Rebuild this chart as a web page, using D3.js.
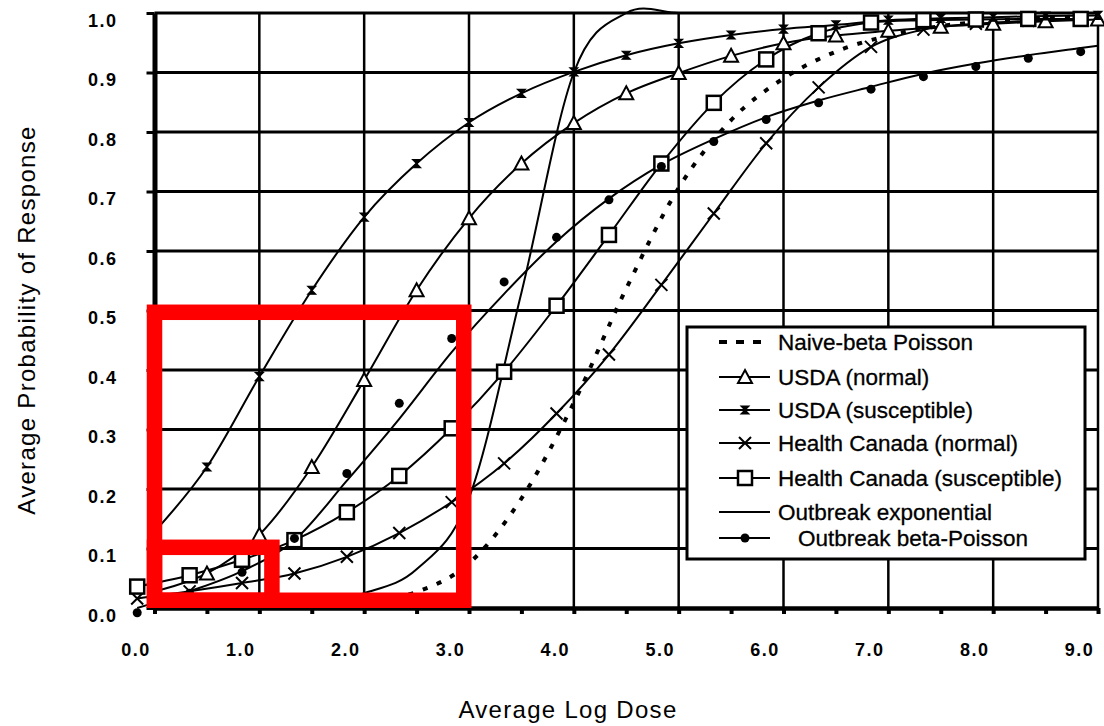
<!DOCTYPE html>
<html>
<head>
<meta charset="utf-8">
<script src="https://cdn.jsdelivr.net/npm/d3@7/dist/d3.min.js"></script>
<style>
body { margin: 0; background: #fff; }
text { font-family: "Liberation Sans", Arial, sans-serif; fill: #000; }
</style>
</head>
<body>
<svg id="chart" width="1104" height="726"></svg>
<script>

// dose positions (log dose)
var gridDose = [0.0, 0.5, 1.0, 1.5, 2.0, 2.5, 3.0, 3.5, 4.0, 4.5, 5.0, 5.5, 6.0, 6.5, 7.0, 7.5, 8.0, 8.5, 9.0];
var shiftedDose = [-0.165, 0.335, 0.835, 1.335, 1.835, 2.335, 2.835, 3.335, 3.835, 4.335, 4.835, 5.335, 5.835, 6.335, 6.835, 7.335, 7.835, 8.335, 8.835];
var bpLineDose = [-0.165, 0.335, 0.835, 1.335, 1.835, 2.335, 2.835, 3.335, 3.835, 4.335, 4.835, 5.335, 5.835, 6.335, 6.835, 7.335, 7.835, 8.335, 8.835, 9.0];

// probability of response per model
var naiveBetaPoisson = [0.0, 0.001, 0.002, 0.004, 0.01, 0.027, 0.075, 0.184, 0.345, 0.537, 0.706, 0.82, 0.89, 0.935, 0.962, 0.978, 0.987, 0.992, 0.995];
var usdaNormal = [0.028, 0.058, 0.123, 0.237, 0.383, 0.534, 0.655, 0.747, 0.815, 0.865, 0.899, 0.928, 0.949, 0.962, 0.97, 0.977, 0.982, 0.986, 0.989];
var usdaSusceptible = [0.128, 0.237, 0.389, 0.534, 0.657, 0.747, 0.816, 0.865, 0.901, 0.929, 0.949, 0.963, 0.973, 0.98, 0.988, 0.991, 0.993, 0.995, 0.996];
var hcNormal = [0.016, 0.028, 0.042, 0.058, 0.086, 0.126, 0.178, 0.243, 0.327, 0.426, 0.543, 0.663, 0.781, 0.875, 0.943, 0.972, 0.982, 0.987, 0.99];
var hcSusceptible = [0.036, 0.055, 0.081, 0.114, 0.161, 0.222, 0.302, 0.397, 0.508, 0.627, 0.747, 0.849, 0.922, 0.966, 0.984, 0.988, 0.989, 0.99, 0.99];
var outbreakExponential = [0.0, 0.001, 0.003, 0.008, 0.025, 0.065, 0.185, 0.53, 0.9, 1.0, 1.0, 1.0, 1.0, 1.0, 1.0, 1.0, 1.0, 1.0, 1.0];
var outbreakBPLine = [0.0, 0.028, 0.062, 0.114, 0.214, 0.318, 0.43, 0.528, 0.616, 0.688, 0.745, 0.788, 0.825, 0.853, 0.876, 0.898, 0.915, 0.929, 0.941, 0.945];
var outbreakBPPoints = [-0.008, 0.025, 0.06, 0.117, 0.226, 0.344, 0.453, 0.548, 0.623, 0.686, 0.742, 0.784, 0.821, 0.849, 0.872, 0.893, 0.91, 0.924, 0.935];

// axis ticks and labels
var xTicks = [0, 0.5, 1, 1.5, 2, 2.5, 3, 3.5, 4, 4.5, 5, 5.5, 6, 6.5, 7, 7.5, 8, 8.5, 9];
var xGrid = [1, 2, 3, 4, 5, 6, 7, 8, 9];
var xTickLabels = ["0.0", "1.0", "2.0", "3.0", "4.0", "5.0", "6.0", "7.0", "8.0", "9.0"];
var yTicks = [0, 0.1, 0.2, 0.3, 0.4, 0.5, 0.6, 0.7, 0.8, 0.9, 1.0];
var yTickLabels = ["0.0", "0.1", "0.2", "0.3", "0.4", "0.5", "0.6", "0.7", "0.8", "0.9", "1.0"];

var legendNames = ["Naive-beta Poisson", "USDA (normal)", "USDA (susceptible)", "Health Canada (normal)",
                   "Health Canada (susceptible)", "Outbreak exponential", "Outbreak beta-Poisson"];

// red highlight boxes (dose range, probability range)
var highlightOuter = {x0: 0, x1: 2.95, y0: 0.013, y1: 0.497};
var highlightInner = {x0: 0, x1: 1.12, y0: 0.013, y1: 0.102};


var svg = d3.select("#chart");

var x = d3.scaleLinear().domain([0, 9]).range([154.5, 1098]);
var y = d3.scaleLinear().domain([0, 1]).range([608, 13]);

// grid
svg.append("g").selectAll("line").data(yTicks.slice(1)).enter().append("line")
    .attr("x1", x(0)).attr("x2", x(9))
    .attr("y1", function(d) { return y(d); })
    .attr("y2", function(d) { return y(d); })
    .attr("stroke", "#000").attr("stroke-width", 3);

svg.append("g").selectAll("line").data(xGrid).enter().append("line")
    .attr("x1", function(d) { return x(d); })
    .attr("x2", function(d) { return x(d); })
    .attr("y1", y(0)).attr("y2", y(1))
    .attr("stroke", "#000").attr("stroke-width", 2.5);

// axes
var xAxis = svg.append("g")
    .attr("transform", "translate(0," + y(0) + ")")
    .call(d3.axisBottom(x).tickValues(xTicks).tickSize(6).tickSizeOuter(0)
        .tickFormat(function(d, i) { return i % 2 === 0 ? xTickLabels[i / 2] : ""; }));
xAxis.select(".domain").attr("stroke-width", 4.5);
xAxis.selectAll(".tick line").attr("stroke-width", 4);
xAxis.selectAll(".tick text")
    .attr("y", 48).attr("dy", null).attr("dx", -19)
    .style("font-size", "18px").style("font-weight", "bold").style("letter-spacing", "1.5px");

var yAxis = svg.append("g")
    .attr("transform", "translate(" + x(0) + ",0)")
    .call(d3.axisLeft(y).tickValues(yTicks).tickSize(8).tickSizeOuter(0)
        .tickFormat(function(d, i) { return yTickLabels[i]; }));
yAxis.select(".domain").attr("stroke-width", 5);
yAxis.selectAll(".tick line").attr("stroke-width", 3);
yAxis.selectAll(".tick text")
    .attr("x", -37).attr("y", 13).attr("dy", null)
    .style("font-size", "18px").style("font-weight", "bold").style("letter-spacing", "1.5px");

// axis titles
svg.append("text")
    .attr("x", 568).attr("y", 718)
    .attr("text-anchor", "middle")
    .style("font-size", "24px").style("letter-spacing", "1.3px")
    .text("Average Log Dose");

svg.append("text")
    .attr("transform", "translate(35,320) rotate(-90)")
    .attr("text-anchor", "middle")
    .style("font-size", "24px").style("letter-spacing", "1.3px")
    .text("Average Probability of Response");

// markers
function drawMarker(g, type, cx, cy) {
    if (type === "triangle") {
        g.append("path").attr("d", "M" + cx + "," + (cy - 7) + "L" + (cx + 7) + "," + (cy + 6) + "L" + (cx - 7) + "," + (cy + 6) + "Z")
            .attr("fill", "#fff").attr("stroke", "#000").attr("stroke-width", 2);
    } else if (type === "square") {
        g.append("rect").attr("x", cx - 7).attr("y", cy - 7).attr("width", 14).attr("height", 14)
            .attr("fill", "#fff").attr("stroke", "#000").attr("stroke-width", 2.5);
    } else if (type === "cross") {
        g.append("path").attr("d", "M" + (cx - 6) + "," + (cy - 6) + "L" + (cx + 6) + "," + (cy + 6) + "M" + (cx + 6) + "," + (cy - 6) + "L" + (cx - 6) + "," + (cy + 6))
            .attr("stroke", "#000").attr("stroke-width", 2);
    } else if (type === "hourglass") {
        g.append("path").attr("d", "M" + (cx - 4) + "," + (cy - 4) + "L" + (cx + 4) + "," + (cy - 4) + "L" + (cx - 4) + "," + (cy + 4) + "L" + (cx + 4) + "," + (cy + 4) + "Z")
            .attr("fill", "#000").attr("stroke", "#000").attr("stroke-width", 1.2);
    } else if (type === "dot") {
        g.append("circle").attr("cx", cx).attr("cy", cy).attr("r", 4.5).attr("fill", "#000");
    }
}

var line = d3.line()
    .x(function(d) { return x(d[0]); })
    .y(function(d) { return y(d[1]); })
    .curve(d3.curveCardinal.tension(0));

function pairs(xs, ys) {
    return xs.map(function(v, i) { return [v, ys[i]]; });
}

var series = [
    {xs: gridDose, ys: naiveBetaPoisson, marker: null, dash: "5,10", width: 4},
    {xs: gridDose, ys: usdaNormal, marker: "triangle", dash: null, width: 2},
    {xs: gridDose, ys: usdaSusceptible, marker: "hourglass", dash: null, width: 2},
    {xs: shiftedDose, ys: hcNormal, marker: "cross", dash: null, width: 2},
    {xs: shiftedDose, ys: hcSusceptible, marker: "square", dash: null, width: 2},
    {xs: gridDose, ys: outbreakExponential, marker: null, dash: null, width: 2},
    {xs: bpLineDose, ys: outbreakBPLine, marker: null, dash: null, width: 2}
];

var plot = svg.append("g");
series.forEach(function(s) {
    plot.append("path")
        .datum(pairs(s.xs, s.ys))
        .attr("d", line)
        .attr("fill", "none")
        .attr("stroke", "#000")
        .attr("stroke-width", s.width)
        .attr("stroke-dasharray", s.dash);
});

var markers = svg.append("g");
series.forEach(function(s) {
    if (!s.marker) return;
    s.xs.forEach(function(v, i) { drawMarker(markers, s.marker, x(v), y(s.ys[i])); });
});
shiftedDose.forEach(function(v, i) { drawMarker(markers, "dot", x(v), y(outbreakBPPoints[i])); });

// legend
var lg = svg.append("g");
lg.append("rect").attr("x", 687).attr("y", 327).attr("width", 398).attr("height", 232)
    .attr("fill", "#fff").attr("stroke", "#000").attr("stroke-width", 3);

var legendY = [342, 377, 410, 443, 478, 512, 538];
var legendMarker = [null, "triangle", "hourglass", "cross", "square", null, "dot"];
legendNames.forEach(function(name, i) {
    var ly = legendY[i];
    lg.append("line").attr("x1", 719).attr("x2", 770).attr("y1", ly).attr("y2", ly)
        .attr("stroke", "#000").attr("stroke-width", i === 0 ? 4 : 2)
        .attr("stroke-dasharray", i === 0 ? "8,9" : null);
    if (legendMarker[i]) drawMarker(lg, legendMarker[i], 745, ly);
    lg.append("text")
        .attr("x", i === 6 ? 798 : 778).attr("y", ly + 8)
        .style("font-size", "22.5px")
        .attr("stroke", "#000").attr("stroke-width", 0.3)
        .text(name);
});

// red highlight boxes drawn over the chart
[highlightOuter, highlightInner].forEach(function(b) {
    svg.append("rect")
        .attr("x", x(b.x0)).attr("y", y(b.y1))
        .attr("width", x(b.x1) - x(b.x0)).attr("height", y(b.y0) - y(b.y1))
        .attr("fill", "none").attr("stroke", "#ff0000").attr("stroke-width", 15.5);
});

</script>
</body>
</html>
